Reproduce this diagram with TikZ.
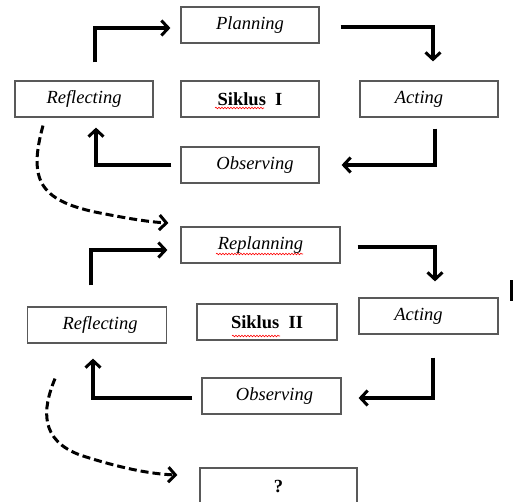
\documentclass[tikz,border=0pt]{standalone}
\usepackage{fontspec}
\setmainfont{Liberation Serif}
\usetikzlibrary{arrows.meta,calc,decorations.pathmorphing}
\begin{document}
\begin{tikzpicture}[x=1pt,y=-1pt,
  box/.style={draw=black!65, line width=1.2pt, minimum height=36pt, inner sep=0pt, font=\fontsize{18.5}{20}\selectfont\itshape},
  arr/.style={line width=3.2pt, -{Straight Barb[length=7pt,width=15pt,line width=3pt]}},
  darr/.style={line width=3pt, dash pattern=on 8pt off 4pt, -{Straight Barb[length=7pt,width=15pt,line width=3pt]}},
  squig/.style={red, line width=0.6pt, decorate, decoration={snake, amplitude=0.8pt, segment length=3pt}}]
\useasboundingbox (0,0) rectangle (513,501);
% cycle I
\node[box, minimum width=138pt] (plan1) at (250,25) {Planning};
\node[box, minimum width=138pt] (ref1) at (84,99) {Reflecting};
\node[box, minimum width=138pt, font=\fontsize{18.5}{20}\selectfont\bfseries] (sik1) at (250,99) {Siklus\ \ I};
\node[box, minimum width=138pt] (act1) at (429,99) {\hspace*{-20pt}Acting};
\node[box, minimum width=138pt] (obs1) at (250,165) {\hspace*{10pt}Observing};
% cycle II
\node[box, minimum width=159pt] (rp) at (260.5,245) {Replanning};
\node[box, minimum width=139pt] (ref2) at (97,325) {\hspace*{6pt}Reflecting};
\node[box, minimum width=140pt, font=\fontsize{18.5}{20}\selectfont\bfseries] (sik2) at (267,322) {Siklus\ \ II};
\node[box, minimum width=139pt] (act2) at (428.5,316) {\hspace*{-20pt}Acting};
\node[box, minimum width=139pt] (obs2) at (271.5,396) {\hspace*{6pt}Observing};
\node[box, minimum width=157pt, minimum height=37pt, font=\fontsize{18.5}{20}\selectfont\bfseries] (q) at (278.5,486.5) {?};
% spell-check squiggles
\draw[squig] (215,108) -- (264,108);
\draw[squig] (216,254) -- (303,254);
\draw[squig] (232,336) -- (280,336);
% arrows cycle I
\draw[arr] ($(ref1.north)+(11,-18)$) |- ($(plan1.west)+(-10,3)$);
\draw[arr] ($(plan1.east)+(21,2)$) -| ($(act1.north)+(4,-19)$);
\draw[arr] ($(act1.south)+(6,11)$) |- ($(obs1.east)+(22,0)$);
\draw[arr] ($(obs1.west)+(-9,0)$) -| ($(ref1.south)+(12,10)$);
% arrows cycle II
\draw[arr] ($(ref2.north)+(-6,-21)$) |- ($(rp.west)+(-13,5)$);
\draw[arr] ($(rp.east)+(17,2)$) -| ($(act2.north)+(6.5,-16)$);
\draw[arr] ($(act2.south)+(4.5,23)$) |- ($(obs2.east)+(17,2)$);
\draw[arr] ($(obs2.west)+(-9,2)$) -| ($(ref2.south)+(-4,15)$);
% dashed transitions
\coordinate (d1s) at ($(ref1.south)+(-41,8)$);
\coordinate (d1e) at ($(rp.west)+(-12,-22)$);
\draw[darr] (d1s) .. controls (28,180) and (40,200) .. (95,212) .. controls (130,219) and (150,222) .. (d1e);
\coordinate (d2s) at ($(ref2.south)+(-42,35)$);
\coordinate (d2e) at ($(q.west)+(-22,-11.5)$);
\draw[darr] (d2s) .. controls (42,410) and (40,440) .. (80,455) .. controls (120,468) and (150,474) .. (d2e);
% stray mark
\fill (510,280) rectangle (513,301);
\end{tikzpicture}
\end{document}
